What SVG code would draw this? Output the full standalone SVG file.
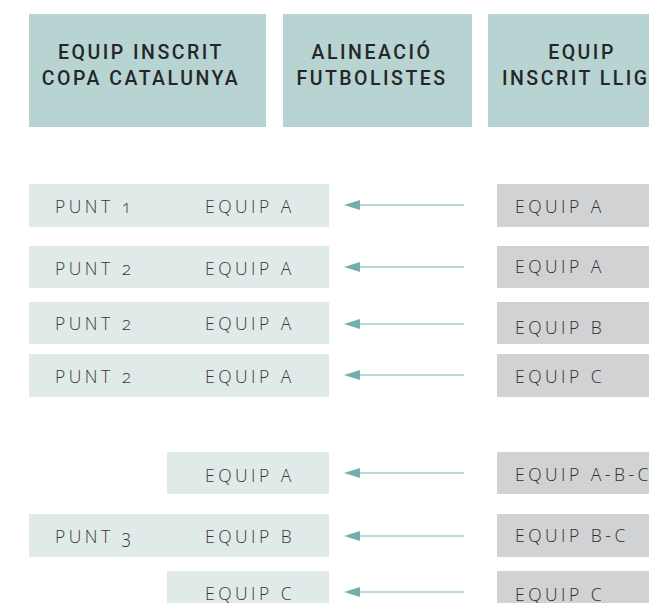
<svg xmlns="http://www.w3.org/2000/svg" width="649" height="603" viewBox="0 0 649 603">
<style>
.hdr{fill:#b7d4d3}
.lt{fill:#e0eae9}
.gr{fill:#d1d2d4}
.ht{font-family:Roboto,"Liberation Sans",sans-serif;font-weight:500;font-size:19.5px;letter-spacing:2.5px;fill:#262626}
.rt{font-family:"Open Sans","Liberation Sans",sans-serif;font-weight:300;font-size:17.5px;letter-spacing:3.5px;fill:#383838;font-variant-numeric:oldstyle-nums}
.gt{font-family:"Open Sans","Liberation Sans",sans-serif;font-weight:300;font-size:17.5px;letter-spacing:3.5px;fill:#2e2e2e}
.ln{stroke:#7ab3af;stroke-width:1.2;fill:none}
.ah{fill:#72b0ab}
</style>
<g id="h1"><rect class="hdr" x="29" y="14" width="237" height="113"/>
<text class="ht" x="141" y="59" text-anchor="middle">EQUIP INSCRIT</text>
<text class="ht" x="141" y="85" text-anchor="middle">COPA CATALUNYA</text></g>
<g id="h2"><rect class="hdr" x="283" y="14" width="189" height="113"/>
<text class="ht" x="372" y="59" text-anchor="middle">ALINEACIÓ</text>
<text class="ht" x="372" y="85" text-anchor="middle">FUTBOLISTES</text></g>
<g id="h3"><rect class="hdr" x="488" y="14" width="170" height="113"/>
<text class="ht" x="582" y="59" text-anchor="middle">EQUIP</text>
<text class="ht" x="502" y="85">INSCRIT LLIG</text></g>

<g id="l1"><rect class="lt" x="29" y="184" width="300" height="43"/>
<text class="rt" x="55" y="213">PUNT 1</text><text class="rt" x="205" y="213">EQUIP A</text></g>
<g id="l2"><rect class="lt" x="29" y="246" width="300" height="42"/>
<text class="rt" x="55" y="275">PUNT 2</text><text class="rt" x="205" y="275">EQUIP A</text></g>
<g id="l3"><rect class="lt" x="29" y="302" width="300" height="42"/>
<text class="rt" x="55" y="330">PUNT 2</text><text class="rt" x="205" y="330">EQUIP A</text></g>
<g id="l4"><rect class="lt" x="29" y="354" width="300" height="43"/>
<text class="rt" x="55" y="383">PUNT 2</text><text class="rt" x="205" y="383">EQUIP A</text></g>
<g id="l5"><rect class="lt" x="167" y="452" width="162" height="42"/>
<text class="rt" x="205" y="482">EQUIP A</text></g>
<g id="l6"><rect class="lt" x="29" y="514" width="300" height="43"/>
<text class="rt" x="55" y="543">PUNT 3</text><text class="rt" x="205" y="543">EQUIP B</text></g>
<g id="l7"><rect class="lt" x="167" y="571" width="162" height="32"/>
<text class="rt" x="205" y="600">EQUIP C</text></g>

<g id="r1"><rect class="gr" x="497" y="184" width="160" height="43"/><text class="gt" x="515" y="213">EQUIP A</text></g>
<g id="r2"><rect class="gr" x="497" y="246" width="160" height="42"/><text class="gt" x="515" y="273">EQUIP A</text></g>
<g id="r3"><rect class="gr" x="497" y="302" width="160" height="42"/><text class="gt" x="515" y="334">EQUIP B</text></g>
<g id="r4"><rect class="gr" x="497" y="354" width="160" height="43"/><text class="gt" x="515" y="383">EQUIP C</text></g>
<g id="r5"><rect class="gr" x="497" y="452" width="160" height="42"/><text class="gt" x="515" y="481">EQUIP A-B-C</text></g>
<g id="r6"><rect class="gr" x="497" y="514" width="160" height="43"/><text class="gt" x="515" y="542">EQUIP B-C</text></g>
<g id="r7"><rect class="gr" x="497" y="571" width="160" height="32"/><text class="gt" x="515" y="601">EQUIP C</text></g>

<g id="connectors">
<line class="ln" x1="464" y1="205" x2="358" y2="205"/><polygon class="ah" points="344,205 360,200 360,210"/>
<line class="ln" x1="464" y1="267" x2="358" y2="267"/><polygon class="ah" points="344,267 360,262 360,272"/>
<line class="ln" x1="464" y1="324" x2="358" y2="324"/><polygon class="ah" points="344,324 360,319 360,329"/>
<line class="ln" x1="464" y1="375" x2="358" y2="375"/><polygon class="ah" points="344,375 360,370 360,380"/>
<line class="ln" x1="464" y1="473" x2="358" y2="473"/><polygon class="ah" points="344,473 360,468 360,478"/>
<line class="ln" x1="464" y1="536" x2="358" y2="536"/><polygon class="ah" points="344,536 360,531 360,541"/>
<line class="ln" x1="464" y1="592" x2="358" y2="592"/><polygon class="ah" points="344,592 360,587 360,597"/>
</g>
</svg>
